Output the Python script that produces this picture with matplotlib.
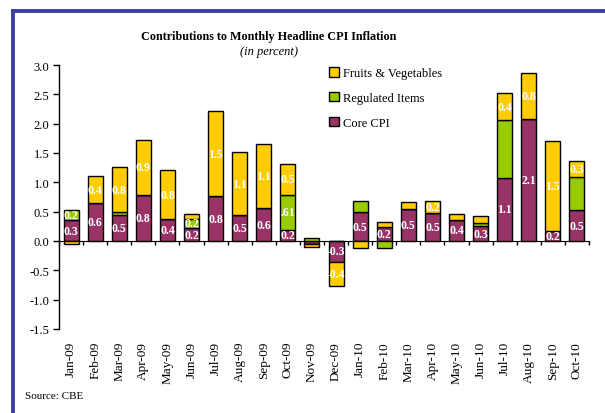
import numpy as np
import matplotlib
matplotlib.use("Agg")
import matplotlib.pyplot as plt
from matplotlib.lines import Line2D
from matplotlib.patches import Patch
import matplotlib.transforms as mtransforms

months = ["Jan-09", "Feb-09", "Mar-09", "Apr-09", "May-09", "Jun-09", "Jul-09", "Aug-09",
          "Sep-09", "Oct-09", "Nov-09", "Dec-09", "Jan-10", "Feb-10", "Mar-10", "Apr-10",
          "May-10", "Jun-10", "Jul-10", "Aug-10", "Sep-10", "Oct-10"]
core = [0.35, 0.65, 0.45, 0.79, 0.37, 0.22, 0.76, 0.45, 0.56, 0.19, -0.05, -0.35,
        0.49, 0.24, 0.54, 0.48, 0.36, 0.25, 1.08, 2.08, 0.17, 0.52]
regulated = [0.18, 0.0, 0.04, 0.0, 0.0, 0.16, 0.0, 0.0, 0.0, 0.60, 0.05, 0.0,
             0.19, -0.12, 0.0, 0.0, 0.0, 0.06, 0.98, 0.0, 0.0, 0.57]
fruits = [-0.05, 0.45, 0.77, 0.93, 0.84, 0.08, 1.46, 1.06, 1.10, 0.53, -0.06, -0.42,
          -0.12, 0.09, 0.13, 0.20, 0.10, 0.11, 0.46, 0.78, 1.53, 0.28]
core_labels = ["0.3", "0.6", "0.5", "0.8", "0.4", "0.2", "0.8", "0.5", "0.6", "0.2", "", "-0.3",
               "0.5", "0.2", "0.5", "0.5", "0.4", "0.3", "1.1", "2.1", "0.2", "0.5"]
reg_labels = ["0.2", "", "", "", "", "0.2", "", "", "", ".61", "", "",
              "", "", "", "", "", "", "", "", "", ""]
fruit_labels = ["", "0.4", "0.8", "0.9", "0.8", "", "1.5", "1.1", "1.1", "0.5", "", "-0.4",
                "", "", "", "0.2", "", "", "0.4", "0.8", "1.5", "0.3"]
yticks = [-1.5, -1.0, -0.5, 0.0, 0.5, 1.0, 1.5, 2.0, 2.5, 3.0]

plt.rcParams['font.family'] = ['Liberation Serif', 'DejaVu Serif']

C_CORE = "#993366"
C_REG = "#99CC00"
C_FRU = "#FFCC00"

fig = plt.figure(figsize=(6.05, 4.14), dpi=100)
ax = fig.add_axes([59/605, 1-330/414, (589-59)/605, (330-66)/414])

x = np.arange(len(months))
pos = np.zeros(len(months))
neg = np.zeros(len(months))
series = [(core, C_CORE, core_labels, "Core CPI"),
          (regulated, C_REG, reg_labels, "Regulated Items"),
          (fruits, C_FRU, fruit_labels, "Fruits & Vegetables")]
for vals, col, labs, name in series:
    v = np.array(vals)
    bottom = np.where(v >= 0, pos, neg)
    ax.bar(x, v, 0.62, bottom=bottom, color=col, edgecolor="black", linewidth=1.0, zorder=3)
    for i in range(len(v)):
        if labs[i]:
            ax.text(x[i], bottom[i] + v[i] / 2, labs[i], ha="center", va="center",
                    color="white", fontsize=8.5, fontweight="bold", zorder=4)
    pos = np.where(v >= 0, pos + v, pos)
    neg = np.where(v < 0, neg + v, neg)

ax.set_xlim(-0.5, len(months) - 0.5)
ax.set_ylim(-1.5, 3.0)
ax.set_yticks(yticks)
ax.set_yticklabels([f"{t:.1f}" for t in yticks], fontsize=9)
ax.tick_params(axis="y", direction="out", length=4, width=1, pad=3)

for s in ["top", "right"]:
    ax.spines[s].set_visible(False)
ax.spines["bottom"].set_position(("data", 0))
ax.spines["left"].set_linewidth(1)
ax.set_xticks(np.arange(len(months) + 1) - 0.5)
ax.set_xticklabels([])
ax.tick_params(axis="x", direction="out", length=3, width=1)

trans = mtransforms.blended_transform_factory(ax.transData, ax.transAxes)
for i, m in enumerate(months):
    ax.text(i, -0.045, m, transform=trans, rotation=90, ha="center", va="top", fontsize=9.5)

handles = [Patch(facecolor=C_FRU, edgecolor="black", label="Fruits & Vegetables"),
           Patch(facecolor=C_REG, edgecolor="black", label="Regulated Items"),
           Patch(facecolor=C_CORE, edgecolor="black", label="Core CPI")]
leg = fig.legend(handles=handles, loc="upper left", bbox_to_anchor=(318/605, 1-57/414),
                 frameon=False, fontsize=9, handlelength=0.8, handleheight=0.8,
                 handletextpad=0.3, labelspacing=1.0)

fig.text(269/605, 1-37/414, "Contributions to Monthly Headline CPI Inflation",
         ha="center", va="center", fontsize=8.7, fontweight="bold")
fig.text(269/605, 1-52/414, "(in percent)", ha="center", va="center",
         fontsize=9, style="italic")
fig.text(25/605, 1-397/414, "Source: CBE", ha="left", va="center", fontsize=8)

border = "#4040A0"
fig.add_artist(Line2D([13/605, 1], [1-12/414, 1-12/414], color=border, linewidth=2.8))
fig.add_artist(Line2D([13/605, 13/605], [0, 1-12/414], color=border, linewidth=2.8))

fig.savefig("out.png", dpi=100)
